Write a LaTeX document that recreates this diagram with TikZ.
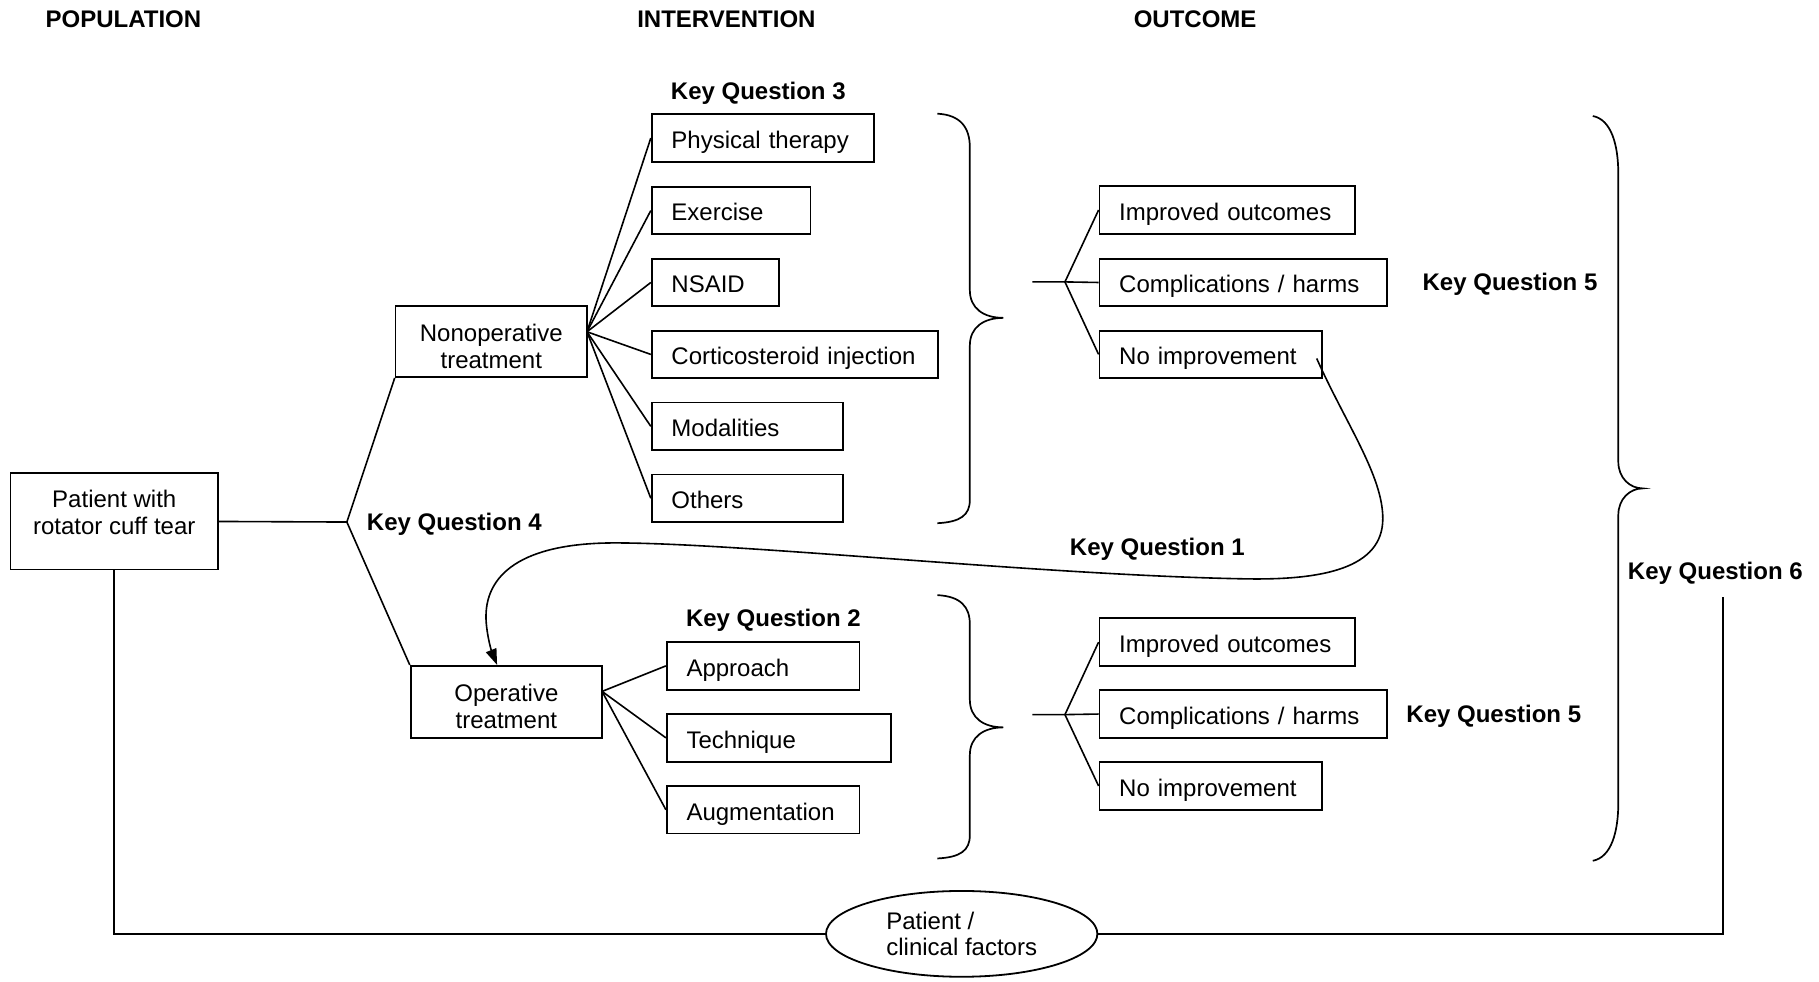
\documentclass[tikz,border=0pt]{standalone}
\usepackage{fontspec}
\setmainfont{Liberation Sans}
\usetikzlibrary{shapes.geometric,arrows.meta,calc}
\begin{document}
\begin{tikzpicture}[x=0.58pt,y=-0.58pt,
  every node/.style={font=\fontsize{12}{13.3}\selectfont},
  bx/.style={draw, line width=0.9pt, anchor=west, inner xsep=9.86pt, inner ysep=0pt, minimum height=23.8pt, text width=#1, text height=11pt, text depth=0.7pt, align=left},
  cbx/.style 2 args={draw, line width=0.9pt, inner sep=0pt, minimum width=#1, minimum height=#2, align=center},
  kq/.style={font=\fontsize{12}{13.3}\selectfont\bfseries, anchor=west, inner sep=0pt, text height=8.6pt, text depth=0pt},
  ln/.style={line width=0.8pt},
  brace/.style={line width=0.85pt}]
\path[use as bounding box] (0,0) rectangle (1568,846);

% headings
\node[kq] (hpop) at (39,16) {POPULATION};
\node[kq] (hint) at (549,16) {INTERVENTION};
\node[kq] (hout) at (977,16) {OUTCOME};

% main boxes
\node[cbx={103.8pt}{48.1pt}] (pat) at (98.5,449.5) {};
\node[align=center, inner sep=0pt] (patt) at (98.5,441.5) {Patient with\\rotator cuff tear};
\node[cbx={95.7pt}{35.4pt}, text height=26.4pt, text depth=0pt] (nonop) at (423.5,294.5) {Nonoperative\\treatment};
\node[cbx={95.7pt}{36pt}, text height=26.4pt, text depth=0pt] (op) at (436.5,605) {Operative\\treatment};

% nonoperative interventions
\node[bx=91.6pt] (pt) at (561,119) {Physical therapy};
\node[bx=59.7pt] (ex) at (561,181.5) {Exercise};
\node[bx=44.1pt] (ns) at (561,243.5) {NSAID};
\node[bx=123.5pt] (cs) at (561,305.5) {Corticosteroid injection};
\node[bx=76pt] (mo) at (561,367.5) {Modalities};
\node[bx=76pt] (ot) at (561,429.5) {Others};

% operative interventions
\node[bx=76.6pt] (ap) at (574,574) {Approach};
\node[bx=92.2pt] (te) at (574,636) {Technique};
\node[bx=76.6pt] (au) at (574,698) {Augmentation};

% outcomes (upper)
\node[bx=107.9pt] (imp1) at (947,181) {Improved outcomes};
\node[bx=124.1pt] (com1) at (947,243.5) {Complications / harms};
\node[bx=91.6pt] (noi1) at (947,305.5) {No improvement};
% outcomes (lower)
\node[bx=107.9pt] (imp2) at (947,553.5) {Improved outcomes};
\node[bx=124.1pt] (com2) at (947,615.5) {Complications / harms};
\node[bx=91.6pt] (noi2) at (947,677.5) {No improvement};

% patient / clinical factors
\node[ellipse, draw, line width=0.9pt, minimum width=135.7pt, minimum height=42.9pt, inner sep=0pt, align=left] (pcf) at (829,805) {Patient /\\clinical factors};

% key question labels
\node[kq] (kq3) at (578,78) {Key Question 3};
\node[kq] (kq4) at (316,450) {Key Question 4};
\node[kq] (kq5a) at (1226,243) {Key Question 5};
\node[kq] (kq1) at (922,471) {Key Question 1};
\node[kq] (kq2) at (591,533) {Key Question 2};
\node[kq] (kq5b) at (1212,615) {Key Question 5};
\node[kq] (kq6) at (1403,492) {Key Question 6};

% connectors
\coordinate (kq4p) at (299,450);
\draw[ln] (pat.east) -- (kq4p) -- (nonop.south west);
\draw[ln] (kq4p) -- (op.north west);
\coordinate (na) at (506,286);
\coordinate (oa) at (519,596);
\foreach \b in {pt,ex,ns,cs,mo,ot} \draw[ln] (na) -- (\b.west);
\foreach \b in {ap,te,au} \draw[ln] (oa) -- (\b.west);

\coordinate (b1s) at (890,243);
\coordinate (b1) at (918,243);
\draw[ln] (b1s) -- (b1) -- (com1.west);
\draw[ln] (b1) -- (imp1.west);
\draw[ln] (b1) -- (noi1.west);
\coordinate (b2s) at (890,616);
\coordinate (b2) at (918,616);
\draw[ln] (b2s) -- (b2) -- (com2.west);
\draw[ln] (b2) -- (imp2.west);
\draw[ln] (b2) -- (noi2.west);

\coordinate (kq6e) at (1485,515);
\draw[ln] (pat.south) |- (pcf.west);
\draw[ln] (pcf.east) -| (kq6e);

% key question 1 curve
\coordinate (kq1s) at (1135,309);
\draw[ln, -{Triangle[length=8pt,width=5.5pt]}] (kq1s) .. controls (1160,365) and (1192,410) .. (1192,447)
  .. controls (1192,490) and (1140,500) .. (1075,499)
  .. controls (900,496) and (640,468) .. (530,468)
  .. controls (450,468) and (417,495) .. (419,535)
  .. controls (420,550) and (424,562) .. ($(op.north)+(-8,0)$);

% braces
\draw[brace] (808,98) .. controls (828,99) and (836,110) .. (836,127) -- (836,250)
  .. controls (836,266) and (848,274) .. (865,274)
  .. controls (848,274) and (836,282) .. (836,298) -- (836,431)
  .. controls (836,444) and (828,450) .. (808,451);
\draw[brace] (808,513) .. controls (828,514) and (836,523) .. (836,538) -- (836,603)
  .. controls (836,619) and (848,627) .. (865,627)
  .. controls (848,627) and (836,635) .. (836,651) -- (836,720)
  .. controls (836,733) and (828,739) .. (808,740);
\draw[brace] (1373,100) .. controls (1389,103) and (1395,125) .. (1395,150) -- (1395,398)
  .. controls (1395,412) and (1405,421) .. (1416,421)
  .. controls (1405,421) and (1395,430) .. (1395,444) -- (1395,692)
  .. controls (1395,717) and (1389,739) .. (1373,742);
\end{tikzpicture}
\end{document}
